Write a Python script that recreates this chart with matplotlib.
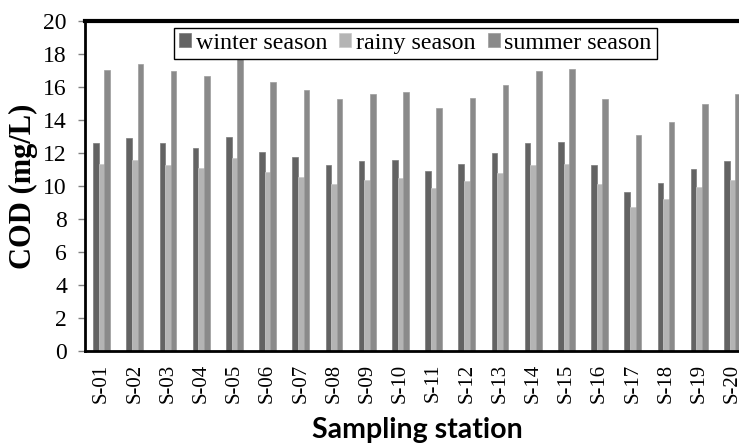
import numpy as np
import matplotlib
matplotlib.use('Agg')
import matplotlib.pyplot as plt

stations = ['S-01', 'S-02', 'S-03', 'S-04', 'S-05', 'S-06', 'S-07', 'S-08', 'S-09', 'S-10',
            'S-11', 'S-12', 'S-13', 'S-14', 'S-15', 'S-16', 'S-17', 'S-18', 'S-19', 'S-20']
winter = [12.6, 12.9, 12.6, 12.3, 13.0, 12.05, 11.75, 11.3, 11.5, 11.6,
          10.9, 11.35, 12.0, 12.6, 12.65, 11.3, 9.65, 10.2, 11.05, 11.5]
rainy = [11.35, 11.6, 11.3, 11.1, 11.7, 10.85, 10.55, 10.15, 10.35, 10.5,
         9.85, 10.3, 10.8, 11.3, 11.35, 10.15, 8.7, 9.2, 9.95, 10.35]
summer = [17.05, 17.4, 16.95, 16.65, 17.9, 16.3, 15.8, 15.25, 15.55, 15.7,
          14.75, 15.35, 16.1, 16.95, 17.1, 15.25, 13.1, 13.85, 14.95, 15.55]

plt.rcParams['font.family'] = ['Liberation Serif', 'DejaVu Serif']

fig = plt.figure(figsize=(7.39, 4.45), dpi=100)
ax = fig.add_axes([85 / 739, 1 - 351 / 445, 664 / 739, 330 / 445])

x = np.arange(len(stations))
w = 0.17
ax.bar(x - w, winter, w, color='#636363', edgecolor='#7a7a7a', linewidth=0.5, label='winter season')
ax.bar(x, rainy, w, color='#b4b4b4', edgecolor='#c8c8c8', linewidth=0.5, label='rainy season')
ax.bar(x + w, summer, w, color='#8a8a8a', edgecolor='#9c9c9c', linewidth=0.5, label='summer season')

ax.set_xlim(-0.5, 19.5)
ax.set_ylim(0, 20)
ax.set_yticks(range(0, 21, 2))
ax.set_xticks(x)
ax.set_xticklabels(stations, rotation=90, fontsize=15)
ax.tick_params(axis='y', labelsize=17, length=5, width=1, color='#808080', pad=8)
ax.tick_params(axis='x', length=0, pad=9)

ax.spines['top'].set_linewidth(3)
ax.spines['left'].set_linewidth(2)
ax.spines['bottom'].set_linewidth(2)
ax.spines['right'].set_visible(False)

ax.set_ylabel('COD (mg/L)', fontsize=22, fontweight='bold', labelpad=4)
ax.set_xlabel('Sampling station', fontsize=20.5, fontweight='bold', family='Lato', labelpad=10)

leg = ax.legend(ncol=3, loc='upper left', bbox_to_anchor=(174 / 739, 1 - 28 / 445),
                bbox_transform=fig.transFigure, borderaxespad=0, fontsize=17.3,
                handlelength=0.5, handleheight=0.5, handletextpad=0.2, columnspacing=0.5,
                borderpad=0.2, fancybox=False, framealpha=1)
leg.get_frame().set_edgecolor('black')
leg.get_frame().set_linewidth(1)

fig.savefig('out.png', dpi=100)
